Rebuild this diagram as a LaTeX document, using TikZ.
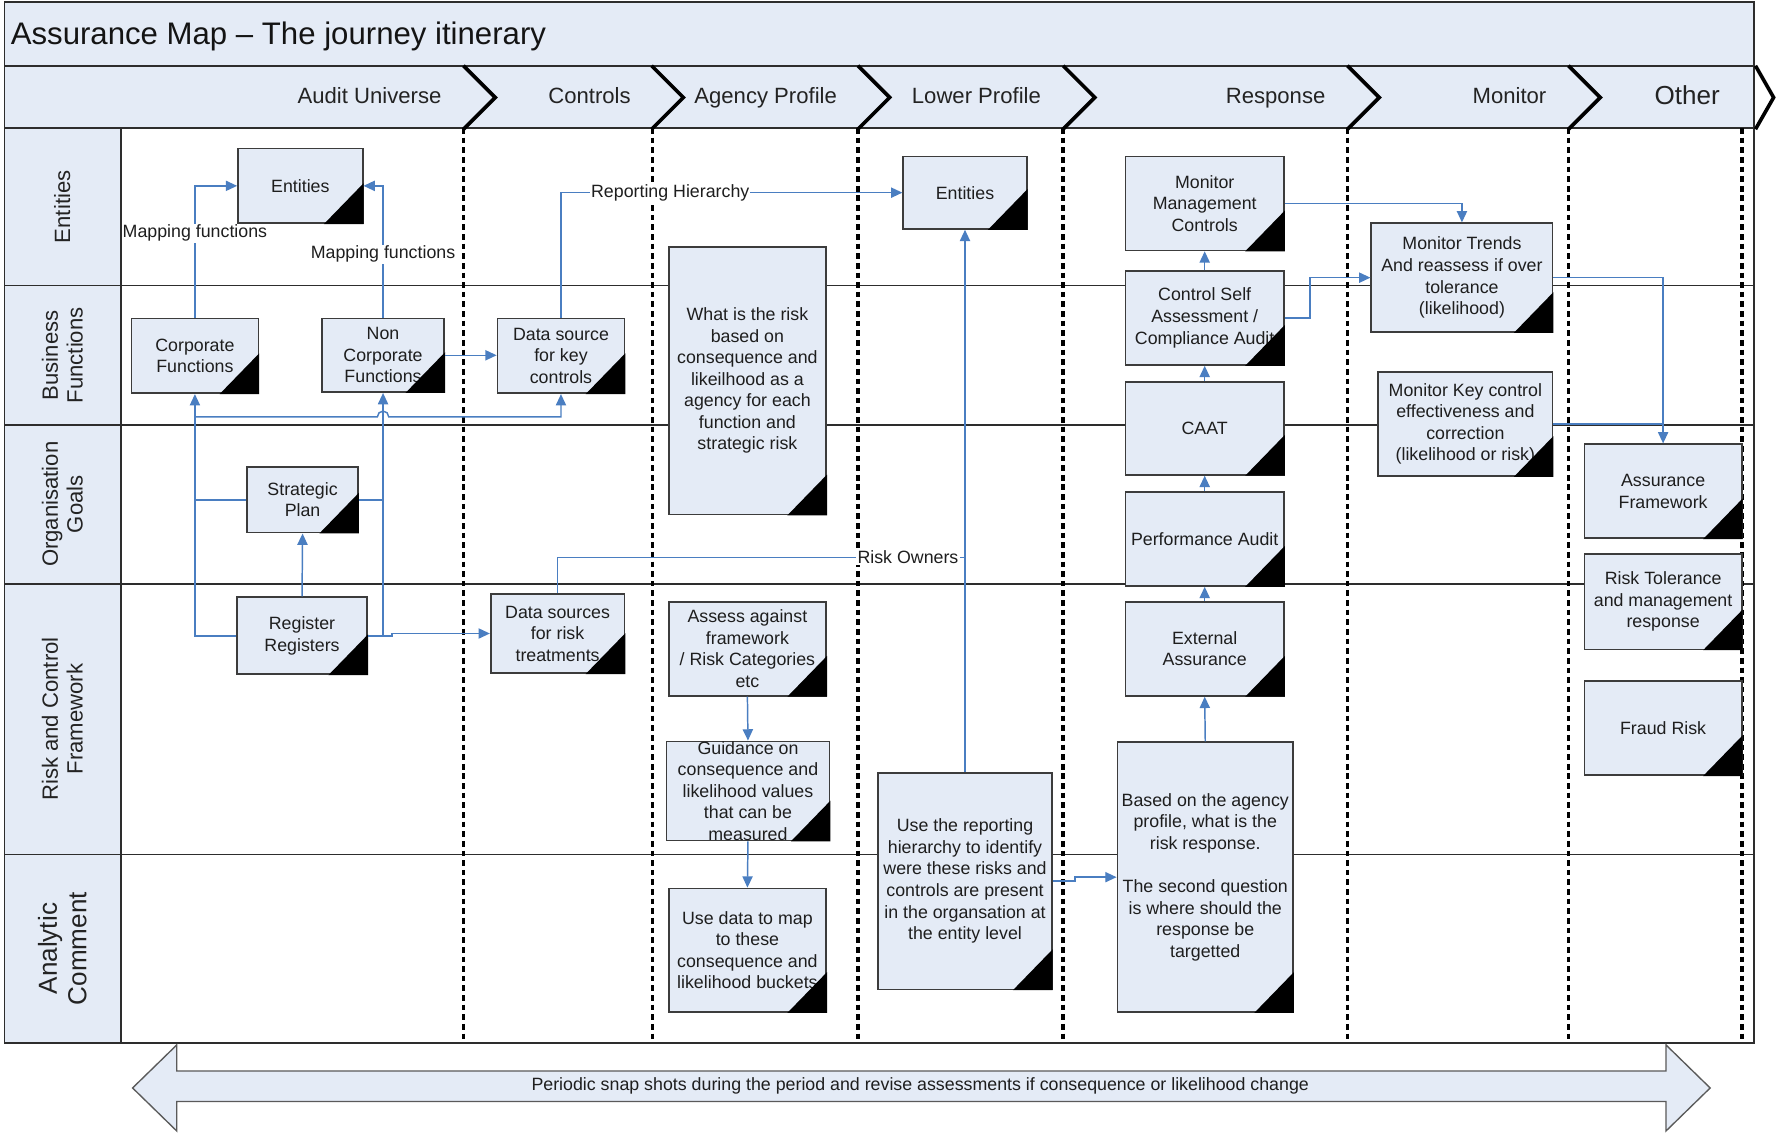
\documentclass[tikz,border=0pt]{standalone}
\usepackage{fontspec}
\setmainfont{Liberation Sans}
\usetikzlibrary{arrows.meta}

\begin{document}
\begin{tikzpicture}[x=1pt,y=1pt,yscale=-1,xscale=1,
  lanefill/.style={fill={rgb, 255:red, 228; green, 235; blue, 246 }},
  frame/.style={draw={rgb, 255:red, 45; green, 45; blue, 45 }, line width=1.6},
  chevron/.style={draw=black, line width=3.2, line join=miter},
  phase/.style={anchor=base east, text={rgb, 255:red, 35; green, 35; blue, 35 }, font=\fontsize{19.5}{23}\selectfont},
  lanelabel/.style={rotate=90, align=center, text={rgb, 255:red, 35; green, 35; blue, 35 }, font=\fontsize{19.5}{22}\selectfont},
  divider/.style={draw=black, line width=3, dash pattern=on 5pt off 3.5pt},
  docbox/.style={lanefill, draw={rgb, 255:red, 60; green, 60; blue, 60 }, line width=1.5, inner sep=0, align=center, text={rgb, 255:red, 30; green, 30; blue, 30 }, font=\fontsize{15.7}{19}\selectfont},
  conn/.style={draw={rgb, 255:red, 74; green, 126; blue, 193 }, line width=1.3, -{Triangle[length=10pt,width=9pt]}},
  link/.style={conn, -},
  connlabel/.style={fill=white, inner sep=1pt, text={rgb, 255:red, 30; green, 30; blue, 30 }, font=\fontsize{15.7}{19}\selectfont}
]
\useasboundingbox (0,0) rectangle (1568,1000);
\fill[white] (0,0) rectangle (1568,1000);

%Shape: Title band
\draw[frame, lanefill] (4,2) rectangle (1548,58);
\node[anchor=base west, text={rgb, 255:red, 20; green, 20; blue, 20 }, font=\fontsize{27.5}{32}\selectfont] (title) at (6,39) {Assurance Map -- The journey itinerary};

%Shape: Phase band
\draw[frame, lanefill] (4,58) rectangle (1548,113);
\draw[frame, lanefill] (4,113) rectangle (107,920);
\draw[frame] (4,113) rectangle (1548,920);

%Straight Lines: lane dividers
\foreach \ly in {252,375,515,754} \draw[frame] (4,\ly) -- (1548,\ly);

%Straight Lines: phase dividers
\foreach \px in {409,576,757,938,1189,1384,1537} \draw[divider] (\px,113) -- (\px,920);
\foreach \cx in {409,575,757,938,1189,1384} \draw[chevron] (\cx,58) -- ({\cx+28},86) -- (\cx,114);
\draw[chevron] (1549,58) -- (1565,86) -- (1549,114);

\node[phase] (ph1) at (393,91) {Audit Universe};
\node[phase] (ph2) at (560,91) {Controls};
\node[phase] (ph3) at (742,91) {Agency Profile};
\node[phase] (ph4) at (922,91) {Lower Profile};
\node[phase] (ph5) at (1173,91) {Response};
\node[phase] (ph6) at (1368,91) {Monitor};
\node[phase, font=\fontsize{23}{27}\selectfont] (ph7) at (1521,92.5) {Other};

%Text: lane labels
\node[lanelabel] (ln1) at (55,182.5) {Entities};
\node[lanelabel] (ln2) at (55,313.5) {Business\\Functions};
\node[lanelabel] (ln3) at (55,445) {Organisation\\Goals};
\node[lanelabel] (ln4) at (55,634.5) {Risk and Control\\Framework};
\node[lanelabel, font=\fontsize{23}{26}\selectfont] (ln5) at (55,837) {Analytic\\Comment};

%Flowchart: Document boxes
\node[docbox, minimum width=110, minimum height=66] (ent1) at (265,164) {Entities};
\node[docbox, minimum width=112, minimum height=66] (corp) at (172,314) {Corporate\\Functions};
\node[docbox, minimum width=108, minimum height=65] (noncorp) at (338,313.5) {Non\\Corporate\\Functions};
\node[docbox, minimum width=112, minimum height=66] (dskey) at (495,314) {Data source\\for key\\controls};
\node[docbox, minimum width=98, minimum height=58] (strat) at (267,441) {Strategic\\Plan};
\node[docbox, minimum width=115, minimum height=68] (reg) at (266.5,561) {Register\\Registers};
\node[docbox, minimum width=118, minimum height=70] (dsrisk) at (492,559) {Data sources\\for risk\\treatments};
\node[docbox, minimum width=139, minimum height=236] (whatrisk) at (659.5,336) {What is the risk\\based on\\consequence and\\likeilhood as a\\agency for each\\function and\\strategic risk};
\node[docbox, minimum width=109, minimum height=64] (ent2) at (851.5,170) {Entities};
\node[docbox, minimum width=139, minimum height=83] (assess) at (659.5,572.5) {Assess against\\framework\\/ Risk Categories\\etc};
\node[docbox, minimum width=144, minimum height=86] (guide) at (660,698) {Guidance on\\consequence and\\likelihood values\\that can be\\measured};
\node[docbox, minimum width=139, minimum height=109] (usedata) at (659.5,838.5) {Use data to map\\to these\\consequence and\\likelihood buckets};
\node[docbox, minimum width=153, minimum height=191] (usereport) at (851.5,777.5) {Use the reporting\\hierarchy to identify\\were these risks and\\controls are present\\in the organsation at\\the entity level};
\node[docbox, minimum width=140, minimum height=83] (monmgmt) at (1063,179.5) {Monitor\\Management\\Controls};
\node[docbox, minimum width=140, minimum height=83] (csa) at (1063,280.5) {Control Self\\Assessment /\\Compliance Audit};
\node[docbox, minimum width=140, minimum height=82] (caat) at (1063,378) {CAAT};
\node[docbox, minimum width=140, minimum height=83] (perf) at (1063,475.5) {Performance Audit};
\node[docbox, minimum width=140, minimum height=83] (extass) at (1063,572.5) {External\\Assurance};
\node[docbox, minimum width=155, minimum height=238] (basedon) at (1063.5,774) {Based on the agency\\profile, what is the\\risk response.\\[19pt]The second question\\is where should the\\response be\\targetted};
\node[docbox, minimum width=160, minimum height=96] (montrend) at (1290,245) {Monitor Trends\\And reassess if over\\tolerance\\(likelihood)};
\node[docbox, minimum width=154, minimum height=92] (monkey) at (1293,374) {Monitor Key control\\effectiveness and\\correction\\(likelihood or risk)};
\node[docbox, minimum width=139, minimum height=83] (assfw) at (1467.5,433.5) {Assurance\\Framework};
\node[docbox, minimum width=139, minimum height=84] (risktol) at (1467.5,531) {Risk Tolerance\\and management\\response};
\node[docbox, minimum width=139, minimum height=83] (fraud) at (1467.5,642.5) {Fraud Risk};
\foreach \b in {ent1,corp,noncorp,dskey,strat,reg,dsrisk,whatrisk,ent2,assess,guide,usedata,usereport,monmgmt,csa,caat,perf,extass,basedon,montrend,monkey,assfw,risktol,fraud}
  \fill (\b.south east) -- ++(0,-36) -- ++(-35,36) -- cycle;

\coordinate (owners) at (851.5,492);

%Connectors
\draw[conn] (corp.north) |- node[connlabel, pos=0.32] {Mapping functions} (ent1.west);
\draw[conn] (noncorp.north) |- node[connlabel, pos=0.24] {Mapping functions} (ent1.east);
\draw[conn] (noncorp.east) -- (noncorp.east -| dskey.west);
\draw[conn] (dskey.north) |- node[connlabel, pos=0.66] {Reporting Hierarchy} (ent2.west);
\draw[conn] (reg.west) -| (corp.south);
\draw[conn] (reg.east) -| (noncorp.south);
\draw[conn] (corp.south) ++(0,20) -- ++(161,0) arc[start angle=180, end angle=360, radius=5] -| (dskey.south);
\draw[link] (strat.west) -- (strat.west -| corp.south);
\draw[link] (strat.east) -- (strat.east -| noncorp.south);
\draw[conn] (reg.north) -- (strat.south);
\draw[conn] (reg.east) -- ++(21,0) |- (dsrisk.west);
\draw[link] (dsrisk.north) |- node[connlabel, pos=0.93] {Risk Owners} (owners);
\draw[conn] (usereport.north) -- (ent2.south);
\draw[conn] (usereport.east) -- ++(20,0) |- (basedon.west);
\draw[conn] (assess.south) -- (guide.north);
\draw[conn] (guide.south) -- (usedata.north);
\draw[conn] (basedon.north) -- (extass.south);
\draw[conn] (extass.north) -- (perf.south);
\draw[conn] (perf.north) -- (caat.south);
\draw[conn] (caat.north) -- (csa.south);
\draw[conn] (csa.north) -- (monmgmt.south);
\draw[conn] (monmgmt.east) -| (montrend.north);
\draw[conn] (csa.east) -- ++(22,0) |- (montrend.west);
\draw[conn] (montrend.east) -| (assfw.north);
\draw[link] (monkey.east) -- (monkey.east -| assfw.north);

%Shape: Double arrow
\draw[lanefill, draw={rgb, 255:red, 90; green, 90; blue, 90 }, line width=1.2] (117,960) -- (156,922) -- (156,945) -- (1470,945) -- (1470,922) -- (1509,960) -- (1470,998) -- (1470,972) -- (156,972) -- (156,998) -- cycle;
\node[text={rgb, 255:red, 30; green, 30; blue, 30 }, font=\fontsize{15.7}{19}\selectfont] (snap) at (812,958) {Periodic snap shots during the period and revise assessments if consequence or likelihood change};

\end{tikzpicture}
\end{document}
